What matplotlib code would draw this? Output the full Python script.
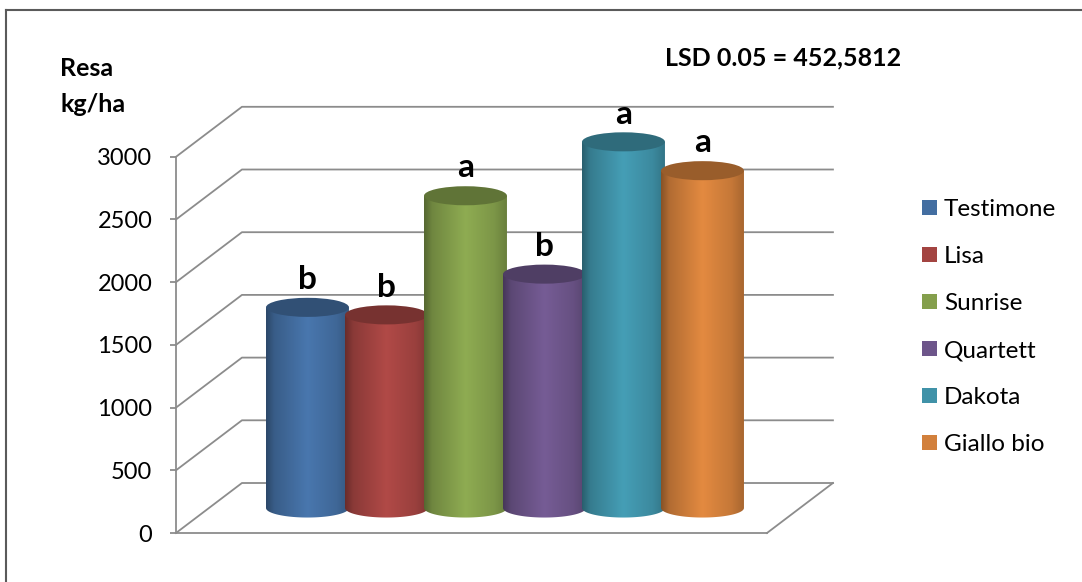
import numpy as np
import matplotlib
matplotlib.use("Agg")
import matplotlib.pyplot as plt
from matplotlib.patches import Polygon, Ellipse, Patch
from matplotlib.lines import Line2D
from matplotlib.colors import to_rgb

varieta = ["Testimone", "Lisa", "Sunrise", "Quartett", "Dakota", "Giallo bio"]
resa = [1600, 1540, 2490, 1865, 2920, 2690]
lettere = ["b", "b", "a", "b", "a", "a"]
colori = ["#4F81BD", "#C0504D", "#9BBB59", "#8064A2", "#4BACC6", "#F79646"]
yticks = [0, 500, 1000, 1500, 2000, 2500, 3000]

plt.rcParams["font.family"] = ["Lato", "DejaVu Sans"]

W, H = 1082, 582
fig = plt.figure(figsize=(W / 100, H / 100), dpi=100)
ax = fig.add_axes([0, 0, 1, 1])
ax.patch.set_visible(False)

# pseudo-3d layout: x in bar-spacing units, y in kg/ha
px_x, px_y = 79.0, 0.1254
x0, y0 = 274.5, 533.0
ax.set_xlim(-x0 / px_x, (W - x0) / px_x)
ax.set_ylim(-(H - y0) / px_y, y0 / px_y)

FL, FR = -1.247, 6.234      # front floor edges
DX, DY = 0.835, 398.7       # depth offset
BW, EH = 1.05, 76           # bar width, ellipse half-height
GRID = "#8c8c8c"

# back wall + side wall gridlines
for v in yticks:
    ax.plot([FL, FL + DX, FR + DX], [v, v + DY, v + DY], color=GRID, lw=1.3, zorder=1)
ax.plot([FR, FR + DX], [0, DY], color=GRID, lw=1.3, zorder=1)

prof_u = [0, 0.1, 0.5, 0.85, 1]
prof_v = [0.55, 0.72, 0.92, 0.8, 0.68]
uu = np.linspace(0, 1, 256)
shade = np.interp(uu, prof_u, prof_v)
th = np.linspace(np.pi, 2 * np.pi, 60)

for i, (val, col) in enumerate(zip(resa, colori)):
    xc = i + DX / 2
    base = DY / 2
    top = base + val
    xl, xr = xc - BW / 2, xc + BW / 2
    pts = [(xl, top), (xl, base)]
    pts += list(zip(xc + BW / 2 * np.cos(th), base + EH * np.sin(th)))
    pts += [(xr, top)]
    body = Polygon(pts, closed=True, transform=ax.transData)
    rgb = np.array(to_rgb(col))
    img = shade[None, :, None] * rgb[None, None, :]
    im = ax.imshow(img, extent=[xl, xr, base - EH, top], aspect="auto",
                   interpolation="bilinear", zorder=3 + i * 0.1)
    im.set_clip_path(body)
    ax.add_patch(Ellipse((xc, top), BW, 2 * EH, facecolor=rgb * 0.62,
                         edgecolor="none", zorder=3.05 + i * 0.1))
    ax.annotate(lettere[i], (xc, top), xytext=(0, 20), textcoords="offset points",
                ha="center", va="center", fontsize=24, fontweight="bold", zorder=5)

ax.set_xlim(-x0 / px_x, (W - x0) / px_x)
ax.set_ylim(-(H - y0) / px_y, y0 / px_y)

for s in ["top", "right"]:
    ax.spines[s].set_visible(False)
ax.spines["left"].set_position(("data", FL))
ax.spines["left"].set_bounds(0, 3000)
ax.spines["bottom"].set_position(("data", 0))
ax.spines["bottom"].set_bounds(FL, FR)
for s in ["left", "bottom"]:
    ax.spines[s].set_color(GRID)
    ax.spines[s].set_linewidth(1.3)
ax.set_xticks([])
ax.set_yticks(yticks)
ax.tick_params(axis="y", length=4, color=GRID, width=1.3, labelsize=17, pad=13)

fig.text(60 / W, 1 - 68 / H, "Resa", fontsize=18, fontweight="bold", va="center")
fig.text(60 / W, 1 - 105 / H, "kg/ha", fontsize=18, fontweight="bold", va="center")
fig.text(665 / W, 1 - 58 / H, "LSD 0.05 = 452,5812", fontsize=18, fontweight="bold", va="center")

handles = [Patch(facecolor=np.array(to_rgb(c)) * 0.85, edgecolor="none") for c in colori]
fig.legend(handles, varieta, loc="upper left", bbox_to_anchor=(922 / W, 1 - 199 / H),
           frameon=False, fontsize=17.5, handlelength=0.6, handleheight=0.6,
           handletextpad=0.3, labelspacing=1.07, borderaxespad=0, borderpad=0)

fig.add_artist(Line2D([6 / W, 1], [1 - 10 / H, 1 - 10 / H], transform=fig.transFigure,
                      color="#5a5a5a", lw=1.5))
fig.add_artist(Line2D([6 / W, 6 / W], [0, 1 - 10 / H], transform=fig.transFigure,
                      color="#5a5a5a", lw=1.5))

fig.savefig("out.png", dpi=100, facecolor="white")
